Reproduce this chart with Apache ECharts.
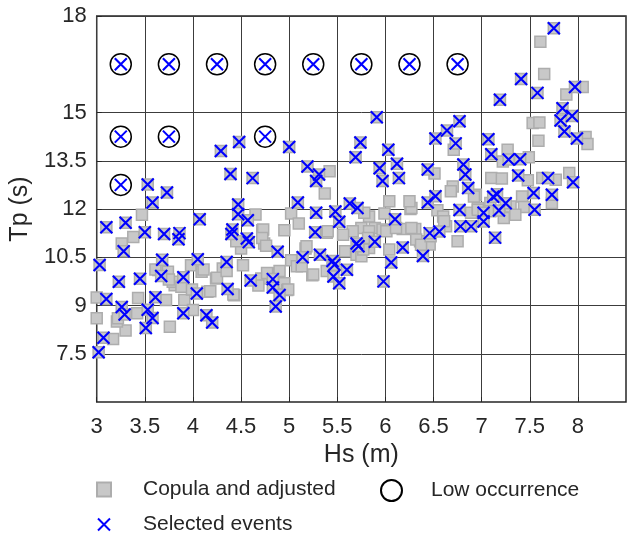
<!DOCTYPE html>
<html>
<head>
<meta charset="utf-8">
<script src="https://cdn.jsdelivr.net/npm/echarts@6/dist/echarts.min.js"></script>
<style>
html,body{margin:0;padding:0;background:#fff;}
#chart{width:630px;height:534px;}
</style>
</head>
<body>
<div id="chart"></div>
<script>
// Tick values
const xTicks = [3, 3.5, 4, 4.5, 5, 5.5, 6, 6.5, 7, 7.5, 8];
const yTicks = [7.5, 9, 10.5, 12, 13.5, 15, 18];

// Copula and adjusted points that are not selected events: [Hs, Tp]
const copulaOnly = [
[3.47,11.82],[3.38,11.13],[3.26,10.93],[3.00,9.25],[3.00,8.60],[3.17,7.96],[3.30,8.22],[3.21,8.50],[3.22,8.60],[3.43,9.23],
[3.42,8.76],[3.76,8.34],[3.72,9.17],[3.81,9.63],[3.91,9.17],[4.00,8.86],[3.64,10.10],[3.74,10.05],[3.79,9.74],[3.88,9.58],
[3.98,10.25],[4.09,10.05],[4.15,9.43],[4.31,10.15],[4.24,9.84],[4.43,9.32],[4.52,10.25],[4.65,11.83],[4.72,11.34],[4.74,10.93],
[4.50,10.77],[4.71,9.84],[4.78,10.00],[4.95,9.69],[4.98,9.48],[5.02,10.41],[5.17,10.77],[5.24,9.94],[4.95,11.34],[5.02,11.86],
[5.10,11.55],[4.45,11.00],[4.73,11.36],[4.72,11.10],[4.76,10.86],[4.11,10.12],[4.25,9.86],[4.35,10.07],[4.18,9.44],[4.42,9.34],
[4.77,10.01],[4.90,10.07],[4.99,9.50],[5.08,10.22],[4.68,9.62],[5.42,13.17],[5.37,12.48],[6.04,12.24],[5.99,11.86],[5.83,11.77],
[5.89,11.41],[5.75,11.41],[5.66,11.31],[5.56,11.20],[5.39,11.26],[5.58,10.69],[5.70,10.58],[5.83,10.79],[6.04,10.74],[5.18,10.84],
[5.25,9.96],[5.13,10.22],[5.75,10.53],[5.97,11.36],[6.71,13.84],[6.51,13.10],[6.70,12.70],[6.68,12.55],[7.10,12.96],[6.94,12.44],
[6.26,12.00],[6.54,11.96],[6.60,11.77],[6.63,11.46],[6.89,11.88],[6.96,12.03],[6.18,11.38],[6.31,11.38],[6.36,11.00],[6.46,10.90],
[6.75,11.00],[7.61,17.20],[7.65,16.20],[8.05,15.79],[7.88,15.56],[7.53,14.67],[7.60,14.69],[7.59,14.12],[8.08,14.24],[8.10,14.02],
[7.27,13.84],[7.49,13.61],[7.22,13.48],[7.48,12.89],[7.63,12.96],[7.77,12.91],[7.91,13.12],[7.21,12.95],[7.42,12.39],[7.44,12.06],
[7.30,12.08],[7.35,11.82],[7.23,11.72],[7.73,12.19],[6.92,12.39],[7.09,12.19],[6.96,11.98],[5.78,11.88],[5.83,11.31],[5.40,11.31],
[6.01,11.31],[6.11,11.41],[6.27,11.41],[6.32,11.05],[6.37,10.89],[6.47,11.15],[6.27,12.03],[6.61,11.62],[7.09,11.93],[6.25,12.24],
[5.39,10.07],[5.77,10.74],[5.82,11.10],[3.75,9.81],[3.99,9.50],[3.61,10.12]
];

// Selected events drawn on top of copula points: [Hs, Tp]
const selectedEvents = [
[3.02,7.55],[3.07,8.00],[3.10,9.20],[3.03,10.26],[3.10,11.43],[3.30,11.57],[3.28,10.69],[3.23,9.74],[3.26,8.95],[3.29,8.72],
[3.45,9.83],[3.50,11.28],[3.53,12.76],[3.58,12.20],[3.73,12.51],[3.53,8.87],[3.58,8.61],[3.51,8.30],[3.61,9.26],[3.68,10.42],
[3.67,9.92],[3.70,11.22],[3.86,11.25],[3.85,11.06],[3.90,9.88],[3.90,8.76],[4.05,10.44],[4.04,9.37],[4.07,11.68],[4.14,8.70],
[4.20,8.47],[4.29,13.80],[4.48,14.08],[4.39,13.09],[4.62,12.96],[4.47,12.14],[4.47,11.84],[4.57,11.65],[4.41,11.36],[4.40,11.22],
[4.56,11.08],[4.58,10.97],[4.35,10.35],[4.36,9.51],[4.60,9.78],[4.83,9.82],[4.83,9.56],[4.90,9.33],[4.86,8.97],[4.88,10.67],
[5.00,13.93],[5.19,13.32],[5.31,13.07],[5.28,12.87],[5.09,12.20],[5.28,11.88],[5.27,11.28],[5.14,10.50],[5.32,10.58],[5.45,10.38],
[5.47,10.27],[5.60,10.11],[5.46,9.90],[5.52,9.69],[5.48,11.92],[5.52,11.60],[5.63,12.17],[5.71,12.03],[5.70,10.93],[5.72,10.84],
[5.89,10.98],[5.69,13.61],[5.74,14.07],[5.91,14.85],[6.03,13.84],[5.94,13.27],[5.97,12.87],[6.12,13.41],[6.14,12.96],[6.10,11.68],
[6.06,10.34],[6.18,10.80],[6.39,10.54],[5.98,9.75],[6.44,12.20],[6.52,12.40],[6.46,11.25],[6.56,11.30],[6.44,13.23],[6.52,14.19],
[6.64,14.44],[6.77,14.73],[6.73,14.04],[6.81,13.38],[6.83,13.07],[6.86,12.65],[6.77,11.97],[6.78,11.46],[6.89,11.46],[7.02,11.88],
[7.02,11.61],[7.07,14.17],[7.10,13.70],[7.14,11.11],[7.16,12.46],[7.12,12.38],[7.25,12.18],[7.18,11.95],[7.19,15.40],[7.28,13.54],
[7.40,13.55],[7.38,13.04],[7.41,16.04],[7.58,15.61],[7.75,17.62],[7.54,12.50],[7.73,12.44],[7.55,11.98],[7.69,12.96],[7.95,12.83],
[7.84,15.13],[7.94,14.89],[7.82,14.75],[7.86,14.41],[7.99,14.19],[7.97,15.79]
];

// Low-occurrence cells (also selected events): [Hs, Tp]
const lowOccurrence = [
[3.25,16.5],[3.75,16.5],[4.25,16.5],[4.75,16.5],[5.25,16.5],[5.75,16.5],[6.25,16.5],[6.75,16.5],
[3.25,14.25],[3.75,14.25],[4.75,14.25],[3.25,12.75]
];

const FONT = 'Liberation Sans, Arial, Helvetica, sans-serif';
const TXT = '#262626';
const X_PATH = 'path://M0,0L10,10M10,0L0,10';

const chart = echarts.init(document.getElementById('chart'), null, {renderer: 'canvas'});
chart.setOption({
  animation: false,
  backgroundColor: '#ffffff',
  textStyle: {fontFamily: FONT},
  grid: {left: 95, top: 16, width: 531, height: 386, show: true,
         borderColor: '#262626', borderWidth: 1.5, backgroundColor: 'transparent'},
  legend: [
    {data: ['Copula and adjusted'], left: 96, top: 479, padding: 0,
     itemWidth: 14, itemHeight: 14, selectedMode: false,
     textStyle: {fontSize: 21, color: TXT, fontFamily: FONT, padding: [0, 0, 0, 27]}},
    {data: ['Low occurrence'], left: 380, top: 479, padding: 0,
     itemWidth: 21, itemHeight: 21, selectedMode: false,
     textStyle: {fontSize: 21, color: TXT, fontFamily: FONT, padding: [0, 0, 0, 24]}},
    {data: ['Selected events'], left: 97, top: 514, padding: 0,
     itemWidth: 12, itemHeight: 12, selectedMode: false,
     textStyle: {fontSize: 21, color: TXT, fontFamily: FONT, padding: [0, 0, 0, 28]}}
  ],
  xAxis: {
    type: 'value', min: 3, max: 8.5,
    name: 'Hs (m)', nameLocation: 'middle', nameGap: 41,
    nameTextStyle: {fontSize: 25, color: TXT, fontFamily: FONT},
    axisLine: {show: false},
    axisTick: {show: true, inside: true, length: 5, customValues: xTicks, lineStyle: {color: '#262626'}},
    axisLabel: {customValues: xTicks, fontSize: 22, color: TXT, margin: 14, fontFamily: FONT},
    splitLine: {show: true, lineStyle: {color: '#3c3c3c', width: 1}}
  },
  yAxis: {
    type: 'value', min: 6, max: 18,
    name: 'Tp (s)', nameLocation: 'middle', nameGap: 49,
    nameTextStyle: {fontSize: 25, color: TXT, fontFamily: FONT},
    axisLine: {show: false},
    axisTick: {show: true, inside: true, length: 5, customValues: yTicks, lineStyle: {color: '#262626'}},
    axisLabel: {customValues: yTicks, fontSize: 22, color: TXT, margin: 10, fontFamily: FONT},
    splitLine: {show: true, lineStyle: {color: '#3c3c3c', width: 1}}
  },
  series: [
    {
      name: 'Copula and adjusted', type: 'scatter', z: 2,
      symbol: 'rect', symbolSize: 11,
      itemStyle: {color: '#c8c8c8', borderColor: '#adadad', borderWidth: 1.5, opacity: 1},
      emphasis: {disabled: true},
      data: copulaOnly.concat(selectedEvents)
    },
    {
      name: 'Low occurrence', type: 'scatter', z: 3,
      symbol: 'circle', symbolSize: 21,
      itemStyle: {color: '#ffffff', borderColor: '#000000', borderWidth: 1.5, opacity: 1},
      emphasis: {disabled: true},
      data: lowOccurrence
    },
    {
      name: 'Selected events', type: 'scatter', z: 4,
      symbol: X_PATH, symbolSize: 12,
      itemStyle: {color: 'rgba(0,0,0,0)', borderColor: '#0000ff', borderWidth: 2.1, opacity: 1},
      emphasis: {disabled: true},
      data: selectedEvents.concat(lowOccurrence)
    }
  ]
});
</script>
</body>
</html>
